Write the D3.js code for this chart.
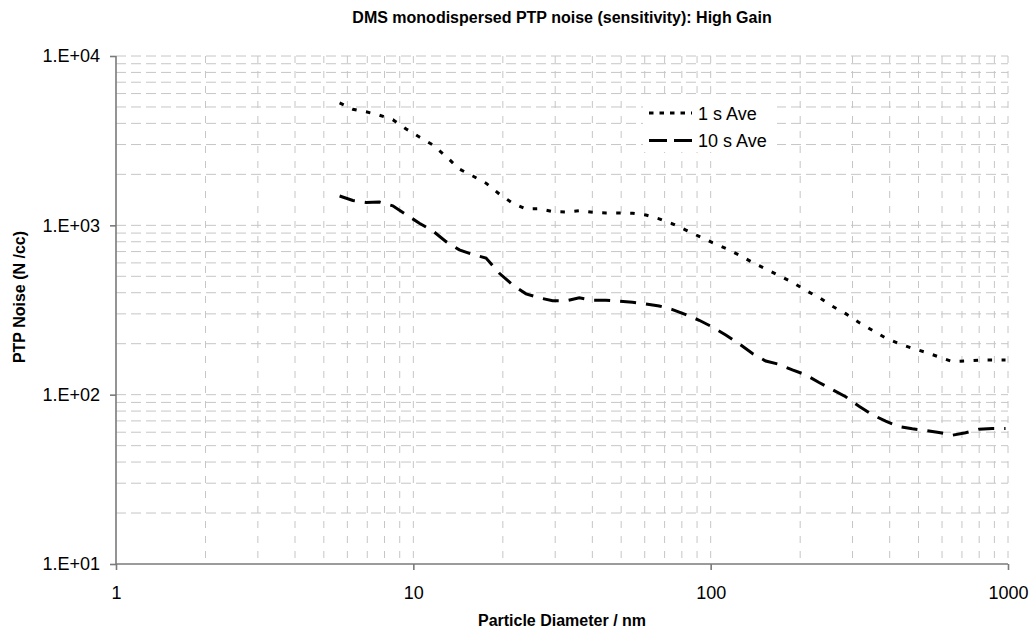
<!DOCTYPE html>
<html><head><meta charset="utf-8">
<script src="https://cdn.jsdelivr.net/npm/d3@7"></script>
<style>body{margin:0;background:#fff}svg{display:block}</style>
</head><body><svg id="c" width="1032" height="634"></svg>
<script>
const titleText = "DMS monodispersed PTP noise (sensitivity): High Gain";
const xTitle = "Particle Diameter / nm";
const yTitle = "PTP Noise (N /cc)";
const seriesNames = ["1 s Ave", "10 s Ave"];
const diameters = [5.65,6.26,6.94,7.69,8.53,9.46,10.48,11.62,12.89,14.28,15.84,17.56,19.47,21.59,23.93,26.53,29.41,32.61,36.15,40.08,44.44,49.27,54.62,60.55,67.13,74.43,82.51,91.48,101.4,112.4,124.6,138.2,153.2,169.9,188.3,208.8,231.5,256.6,284.5,315.5,349.7,387.7,429.9,476.6,528.4,585.8,649.5,720.1,798.3,885.1,981];
const ave1s = [5280,4850,4680,4470,4205,3706,3323,2989,2550,2150,1956,1774,1530,1351,1249,1255,1206,1198,1220,1193,1182,1182,1178,1150,1092,1021,938,860,790,731,668,604,553,505,461,413,375,333,301,267,240,216,200,188,178,167,157,158,160,160,160];
const ave10s = [1490,1401,1366,1373,1304,1158,1029,928,801,717,673,641,521,445,394,373,359,358,373,361,361,356,351,343,334,318,297,275,251,225,200,175,158,151,140,131,118,107,97.2,85.5,76.2,69.7,64.9,62.9,61.5,59.8,57.6,59.6,62.5,63.2,63.2];
const xTicks = [1, 10, 100, 1000];
const xTickLabels = ["1", "10", "100", "1000"];
const yTicks = [10, 100, 1000, 10000];
const yTickLabels = ["1.E+01", "1.E+02", "1.E+03", "1.E+04"];

const svg = d3.select("#c");
const font = "Liberation Sans, Arial, Helvetica, sans-serif";
const x = d3.scaleLog().domain([1, 1000]).range([116, 1008]);
const y = d3.scaleLog().domain([10, 10000]).range([564, 56]);

const gridX = [], gridY = [];
for (let dec = 1; dec < 1000; dec *= 10) for (let m = 1; m <= 9; m++) { const v = dec * m; if (v > 1) gridX.push(v); }
gridX.push(1000);
for (let dec = 10; dec < 10000; dec *= 10) for (let m = 1; m <= 9; m++) { const v = dec * m; if (v > 10) gridY.push(v); }
gridY.push(10000);

const g = svg.append("g");
g.selectAll("line.gx").data(gridX).enter().append("line")
  .attr("x1", d => x(d)).attr("x2", d => x(d)).attr("y1", y(10000)).attr("y2", y(10))
  .attr("stroke", "#c6c6c6").attr("stroke-width", 1).attr("stroke-dasharray", "7,8");
g.selectAll("line.gy").data(gridY).enter().append("line")
  .attr("x1", x(1)).attr("x2", x(1000)).attr("y1", d => y(d)).attr("y2", d => y(d))
  .attr("stroke", "#c6c6c6").attr("stroke-width", 1).attr("stroke-dasharray", "10,5");

const yAxis = d3.axisLeft(y).tickValues(yTicks).tickFormat((d, i) => yTickLabels[i]).tickSize(6).tickPadding(10);
const xAxis = d3.axisBottom(x).tickValues(xTicks).tickFormat((d, i) => xTickLabels[i]).tickSize(6).tickPadding(16);
const ya = svg.append("g").attr("transform", `translate(${x(1)},0)`).call(yAxis);
const xa = svg.append("g").attr("transform", `translate(0,${y(10)})`).call(xAxis);
[ya, xa].forEach(a => {
  a.select(".domain").attr("stroke", "#7a7a7a").attr("stroke-width", 1.6);
  a.selectAll(".tick line").attr("stroke", "#7a7a7a").attr("stroke-width", 1.6);
  a.selectAll("text").attr("fill", "#000").style("font-family", font).style("font-size", "18px");
});
ya.select(".domain").attr("d", `M0,${y(10)}V${y(10000)}`);
xa.select(".domain").attr("d", `M${x(1)},0H${x(1000)}`);

const line = d3.line().x(d => x(d[0])).y(d => y(d[1]));
svg.append("path").datum(diameters.map((d, i) => [d, ave1s[i]]))
  .attr("d", line).attr("fill", "none").attr("stroke", "#000").attr("stroke-width", 3)
  .attr("stroke-dasharray", "4.5,9.5");
svg.append("path").datum(diameters.map((d, i) => [d, ave10s[i]]))
  .attr("d", line).attr("fill", "none").attr("stroke", "#000").attr("stroke-width", 3)
  .attr("stroke-dasharray", "16,10");

svg.append("text").attr("x", 562).attr("y", 23).attr("text-anchor", "middle")
  .style("font-family", font).style("font-size", "16px").style("font-weight", "bold").text(titleText);
svg.append("text").attr("x", 562).attr("y", 626).attr("text-anchor", "middle")
  .style("font-family", font).style("font-size", "16px").style("font-weight", "bold").text(xTitle);
svg.append("text").attr("transform", "translate(25,297) rotate(-90)").attr("text-anchor", "middle")
  .style("font-family", font).style("font-size", "16px").style("font-weight", "bold").text(yTitle);

const lg = svg.append("g");
lg.append("rect").attr("x", 643).attr("y", 100).attr("width", 134).attr("height", 52).attr("fill", "#fff");
const dashes = ["4.5,6", "18,7"];
seriesNames.forEach((n, i) => {
  const yy = 113 + i * 27.5;
  lg.append("line").attr("x1", 649).attr("x2", 692).attr("y1", yy).attr("y2", yy)
    .attr("stroke", "#000").attr("stroke-width", 3).attr("stroke-dasharray", dashes[i]);
  lg.append("text").attr("x", 698).attr("y", yy + 6.5).style("font-family", font).style("font-size", "18px").text(n);
});
</script></body></html>
